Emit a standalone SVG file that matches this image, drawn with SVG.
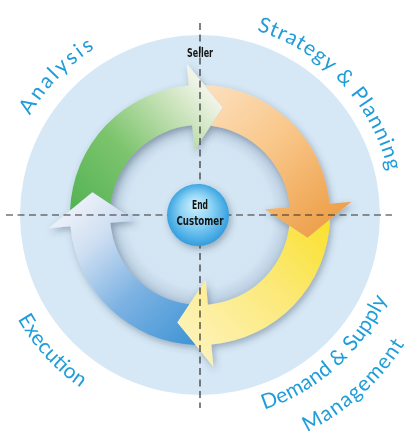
<svg xmlns="http://www.w3.org/2000/svg" xmlns:xlink="http://www.w3.org/1999/xlink" width="414" height="439" viewBox="0 0 414 439">
<style>
.lbl{font-family:Lato,"Open Sans","DejaVu Sans",sans-serif;font-size:21px;fill:#1f9dd9}
.cnd{font-family:"Liberation Sans Narrow","DejaVu Sans Condensed","Liberation Sans",sans-serif;font-weight:bold;font-size:12.5px;fill:#141414;text-anchor:middle}
.axis{stroke:#2e2e2e;stroke-width:1.2;stroke-dasharray:7 4.5;fill:none}
</style>
<defs>
<filter id="shadow" x="-20%" y="-20%" width="140%" height="140%">
<feDropShadow dx="2" dy="3" stdDeviation="3.5" flood-color="#3a4a5c" flood-opacity="0.4"/>
</filter>
<radialGradient id="inner" cx="0.5" cy="0.5" r="0.5">
<stop offset="0" stop-color="#d6e8f6"/>
<stop offset="0.8" stop-color="#d3e5f3"/>
<stop offset="1" stop-color="#b6cadd"/>
</radialGradient>
<radialGradient id="ball" cx="0.5" cy="0.5" r="0.55" fx="0.45" fy="0.32">
<stop offset="0" stop-color="#d2f1fd"/>
<stop offset="0.45" stop-color="#8dd3f5"/>
<stop offset="0.85" stop-color="#42a8e3"/>
<stop offset="1" stop-color="#2a8fd4"/>
</radialGradient>
<linearGradient id="gGreen" gradientUnits="userSpaceOnUse" x1="75" y1="220" x2="210" y2="95">
<stop offset="0" stop-color="#52b252"/>
<stop offset="0.45" stop-color="#7cc46d"/>
<stop offset="0.8" stop-color="#c8e2b8"/>
<stop offset="1" stop-color="#eff4e7"/>
</linearGradient>
<linearGradient id="gOrange" gradientUnits="userSpaceOnUse" x1="75" y1="220" x2="210" y2="95">
<stop offset="0" stop-color="#fde1c0"/>
<stop offset="0.5" stop-color="#f9c78a"/>
<stop offset="1" stop-color="#eea24d"/>
</linearGradient>
<linearGradient id="gYellow" gradientUnits="userSpaceOnUse" x1="75" y1="220" x2="210" y2="95">
<stop offset="0" stop-color="#fae12a"/>
<stop offset="0.5" stop-color="#fbe97a"/>
<stop offset="1" stop-color="#fdf2b4"/>
</linearGradient>
<linearGradient id="gBlue" gradientUnits="userSpaceOnUse" x1="75" y1="220" x2="210" y2="95">
<stop offset="0" stop-color="#3c93d5"/>
<stop offset="0.45" stop-color="#7cb2e2"/>
<stop offset="0.8" stop-color="#cfdff2"/>
<stop offset="1" stop-color="#e9eff8"/>
</linearGradient>
<path id="arrowShape" d="M70.10 210.52 A130 130 0 0 1 188.67 85.50 L186.75 63.58 L222.87 107.40 L194.33 150.25 L192.16 125.34 A90 90 0 0 0 110.65 204.29 L92.40 192.13 Z"/>
<path id="pAnalysis" d="M5.99 180.80 A197 197 0 0 1 159.04 22.31"/>
<path id="pStrategy" d="M189.90 22.26 A193 193 0 0 1 391.56 238.52"/>
<path id="pExecution" d="M-6.81 178.54 A210 210 0 0 0 218.30 424.20"/>
<path id="pDemand" d="M164.40 416.88 A205 205 0 0 0 404.50 200.70"/>
<path id="pManagement" d="M157.98 453.32 A242 242 0 0 0 441.41 198.12"/>
</defs>

<g id="background">
<circle cx="200" cy="215" r="180" fill="#d6e8f6"/>
<circle cx="200" cy="215" r="91" fill="url(#inner)"/>
</g>

<g id="cycle" filter="url(#shadow)">
<g id="arrow-analysis"><use href="#arrowShape" fill="url(#gGreen)"/></g>
<g id="arrow-strategy"><use href="#arrowShape" fill="url(#gOrange)" transform="rotate(90 200 215)"/></g>
<g id="arrow-demand"><use href="#arrowShape" fill="url(#gYellow)" transform="rotate(180 200 215)"/></g>
<g id="arrow-execution"><use href="#arrowShape" fill="url(#gBlue)" transform="rotate(270 200 215)"/></g>
</g>

<g id="connectors">
<line class="axis" x1="200" y1="23" x2="200" y2="408"/>
<line class="axis" x1="6" y1="215" x2="392" y2="215"/>
</g>

<g id="end-customer">
<circle cx="198" cy="215" r="31" fill="url(#ball)" filter="url(#shadow)"/>
<text class="cnd" x="200" y="209" textLength="16" lengthAdjust="spacingAndGlyphs">End</text>
<text class="cnd" x="200" y="225" textLength="47" lengthAdjust="spacingAndGlyphs">Customer</text>
</g>

<g id="seller">
<text class="cnd" x="200" y="57" textLength="26" lengthAdjust="spacingAndGlyphs">Seller</text>
</g>

<g id="label-analysis"><text class="lbl"><textPath href="#pAnalysis" startOffset="50%" text-anchor="middle" textLength="94" lengthAdjust="spacing">Analysis</textPath></text></g>
<g id="label-strategy"><text class="lbl"><textPath href="#pStrategy" startOffset="50%" text-anchor="middle" textLength="201" lengthAdjust="spacing">Strategy &amp; Planning</textPath></text></g>
<g id="label-execution"><text class="lbl"><textPath href="#pExecution" startOffset="50%" text-anchor="middle" textLength="94" lengthAdjust="spacing">Execution</textPath></text></g>
<g id="label-demand"><text class="lbl"><textPath href="#pDemand" startOffset="50%" text-anchor="middle" textLength="170" lengthAdjust="spacing">Demand &amp; Supply</textPath></text>
<text class="lbl"><textPath href="#pManagement" startOffset="50%" text-anchor="middle" textLength="133" lengthAdjust="spacing">Management</textPath></text></g>
</svg>
